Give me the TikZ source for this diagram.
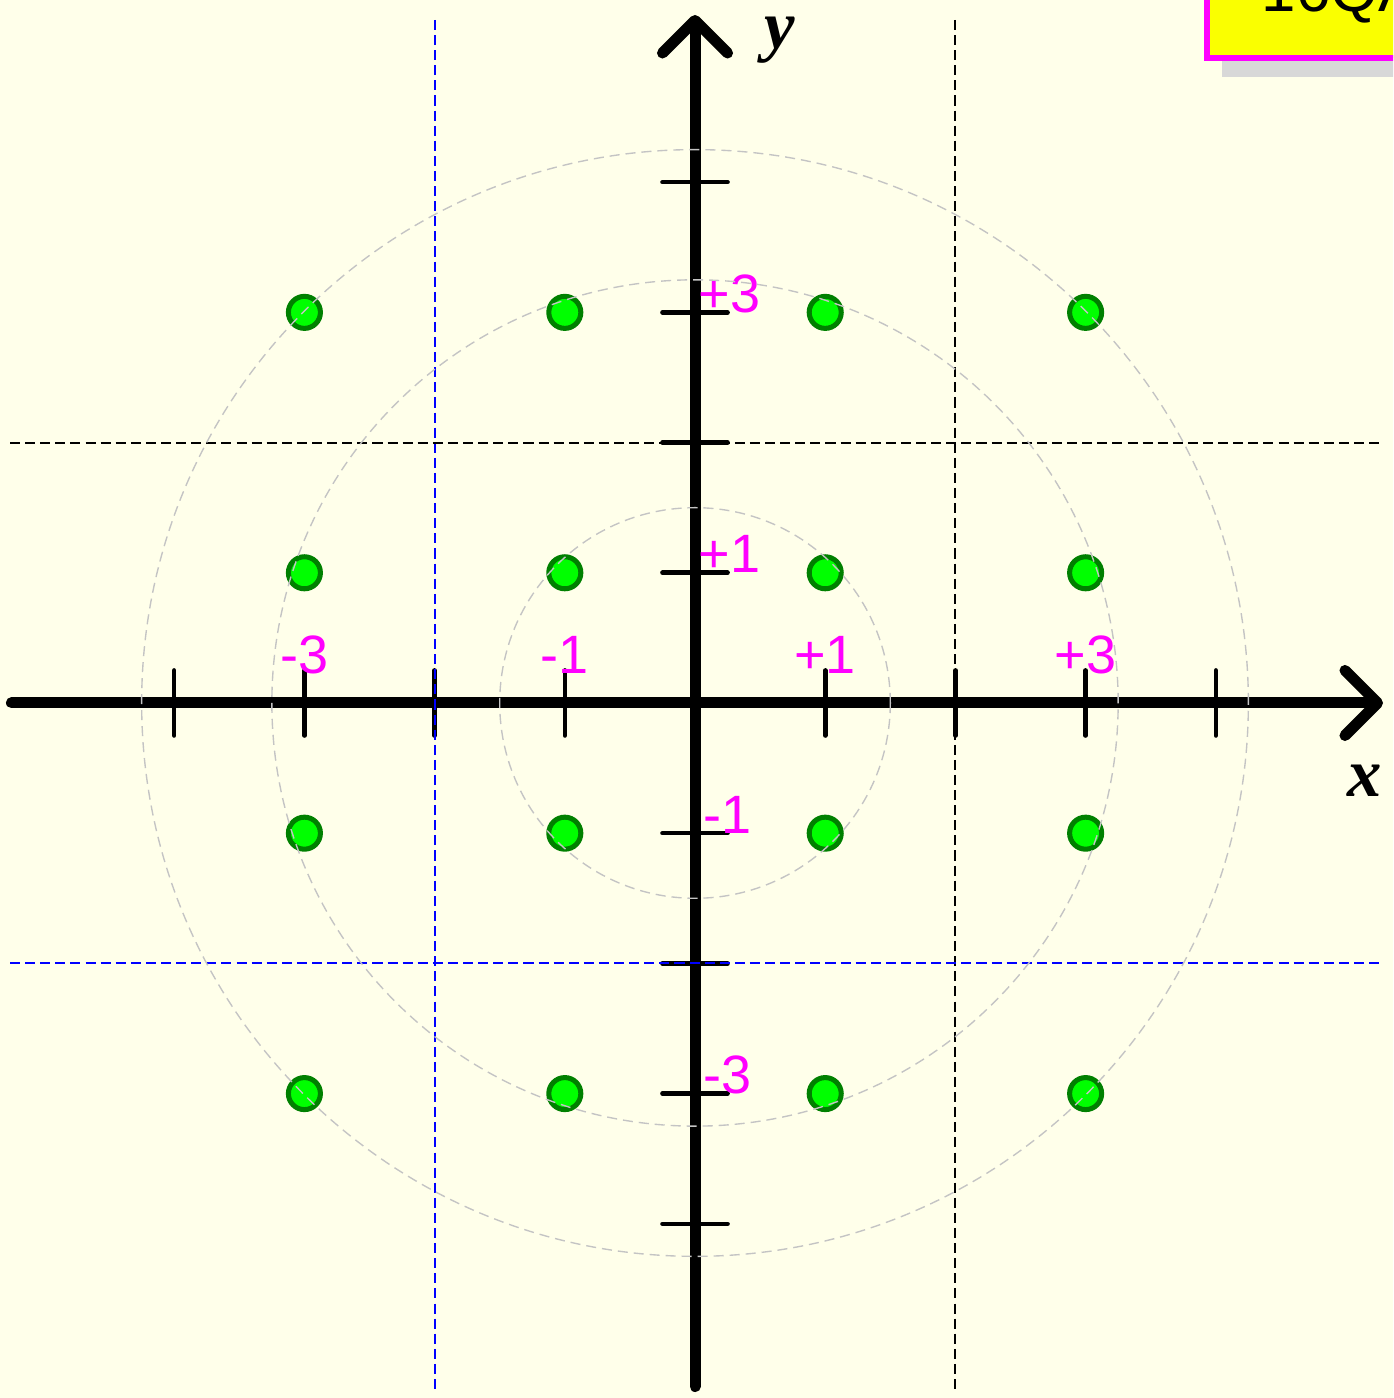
\documentclass[tikz,border=0pt]{standalone}
\usepackage{fontspec}
\setmainfont{Liberation Serif}
\setsansfont{Liberation Sans}
\usepackage{xcolor}
\definecolor{qambg}{RGB}{255,255,234}
\definecolor{qamgreen}{RGB}{0,255,0}
\definecolor{qamdkgreen}{RGB}{0,128,0}
\definecolor{qammagenta}{RGB}{255,0,255}
\definecolor{qamyellow}{RGB}{250,255,0}
\definecolor{qamshadow}{RGB}{216,216,216}
\definecolor{qamring}{RGB}{196,196,196}
\definecolor{qamblue}{RGB}{0,0,255}
\usepackage{tikz}
\usetikzlibrary{arrows.meta, shadows}

\tikzset{
  axisline/.style={line width=2.4pt, line cap=round,
       -{Straight Barb[length=2.5mm, width=5mm, round]}},
  tickmark/.style={line width=1pt, line cap=round},
  symbolpt/.style={fill=qamgreen, draw=qamdkgreen, line width=1.1pt},
  ticklabel/.style={font=\sffamily\fontsize{11.8}{13}\selectfont, text=qammagenta, inner sep=0pt},
  axislabel/.style={font=\bfseries\itshape\fontsize{15}{17}\selectfont, inner sep=0pt},
  ringline/.style={draw=qamring, line width=0.3pt, dash pattern=on 2.2pt off 1.3pt},
  boundline/.style={line width=0.45pt, dash pattern=on 2.2pt off 1.1pt},
  titlebox/.style={draw=qammagenta, fill=qamyellow, line width=1.3pt, outer sep=0pt,
       font=\sffamily\fontsize{13.5}{16}\selectfont, inner xsep=0.42cm, inner ysep=0.353cm,
       text depth=0pt,
       drop shadow={shadow xshift=0.115cm, shadow yshift=-0.146cm, fill=qamshadow, opacity=1}}
}

\begin{document}
\begin{tikzpicture}
  \useasboundingbox (-5.338,-5.338) rectangle (5.361,5.399);
  \clip (-5.338,-5.338) rectangle (5.361,5.399);
  \fill[qambg] (-5.338,-5.338) rectangle (5.361,5.399);

  % Title (mostly cut off at the top edge)
  \node[titlebox, anchor=south west] (title) at (3.932,4.954) {16QAM};

  % Axes
  \coordinate (xstart) at (-5.25,0);
  \coordinate (xend)   at (5.284,0);
  \coordinate (ystart) at (0,-5.25);
  \coordinate (yend)   at (0,5.284);
  \draw[axisline] (xstart) -- (xend);
  \draw[axisline] (ystart) -- (yend);
  \node[axislabel, anchor=base] (xlabel) at (5.146,-0.722) {x};
  \node[axislabel, anchor=base] (ylabel) at (0.653,5.023) {y};

  % Tick marks
  \foreach \t in {-4,-3,-2,-1,1,2,3,4} {
    \draw[tickmark] (\t,-0.25) -- (\t,0.25);
    \draw[tickmark] (-0.25,\t) -- (0.25,\t);
  }

  % Tick labels
  \node[ticklabel, anchor=base] (lxm3) at (-3,0.223) {-3};
  \node[ticklabel, anchor=base] (lxm1) at (-1,0.223) {-1};
  \node[ticklabel, anchor=base] (lxp1) at (1,0.223) {+1};
  \node[ticklabel, anchor=base] (lxp3) at (3,0.223) {+3};
  \node[ticklabel, anchor=base west] (lyp3) at (0.02,3) {+3};
  \node[ticklabel, anchor=base west] (lyp1) at (0.02,1) {+1};
  \node[ticklabel, anchor=base west] (lym1) at (0.06,-1) {-1};
  \node[ticklabel, anchor=base west] (lym3) at (0.06,-3) {-3};

  % Constellation points
  \foreach \i in {-3,-1,1,3} {
    \foreach \q in {-3,-1,1,3} {
      \filldraw[symbolpt] (\i,\q) circle (0.123);
    }
  }

  % Decision boundaries
  \draw[boundline, qamblue] (-2,5.246) -- (-2,-5.276);
  \draw[boundline, black]   (2,5.246) -- (2,-5.276);
  \draw[boundline, black]   (-5.261,2) -- (5.261,2);
  \draw[boundline, qamblue] (-5.261,-2) -- (5.261,-2);

  % Energy rings
  \draw[ringline] (0,0) circle (1.5);
  \draw[ringline] (0,0) circle (3.25);
  \draw[ringline] (0,0) circle (4.25);
\end{tikzpicture}
\end{document}
